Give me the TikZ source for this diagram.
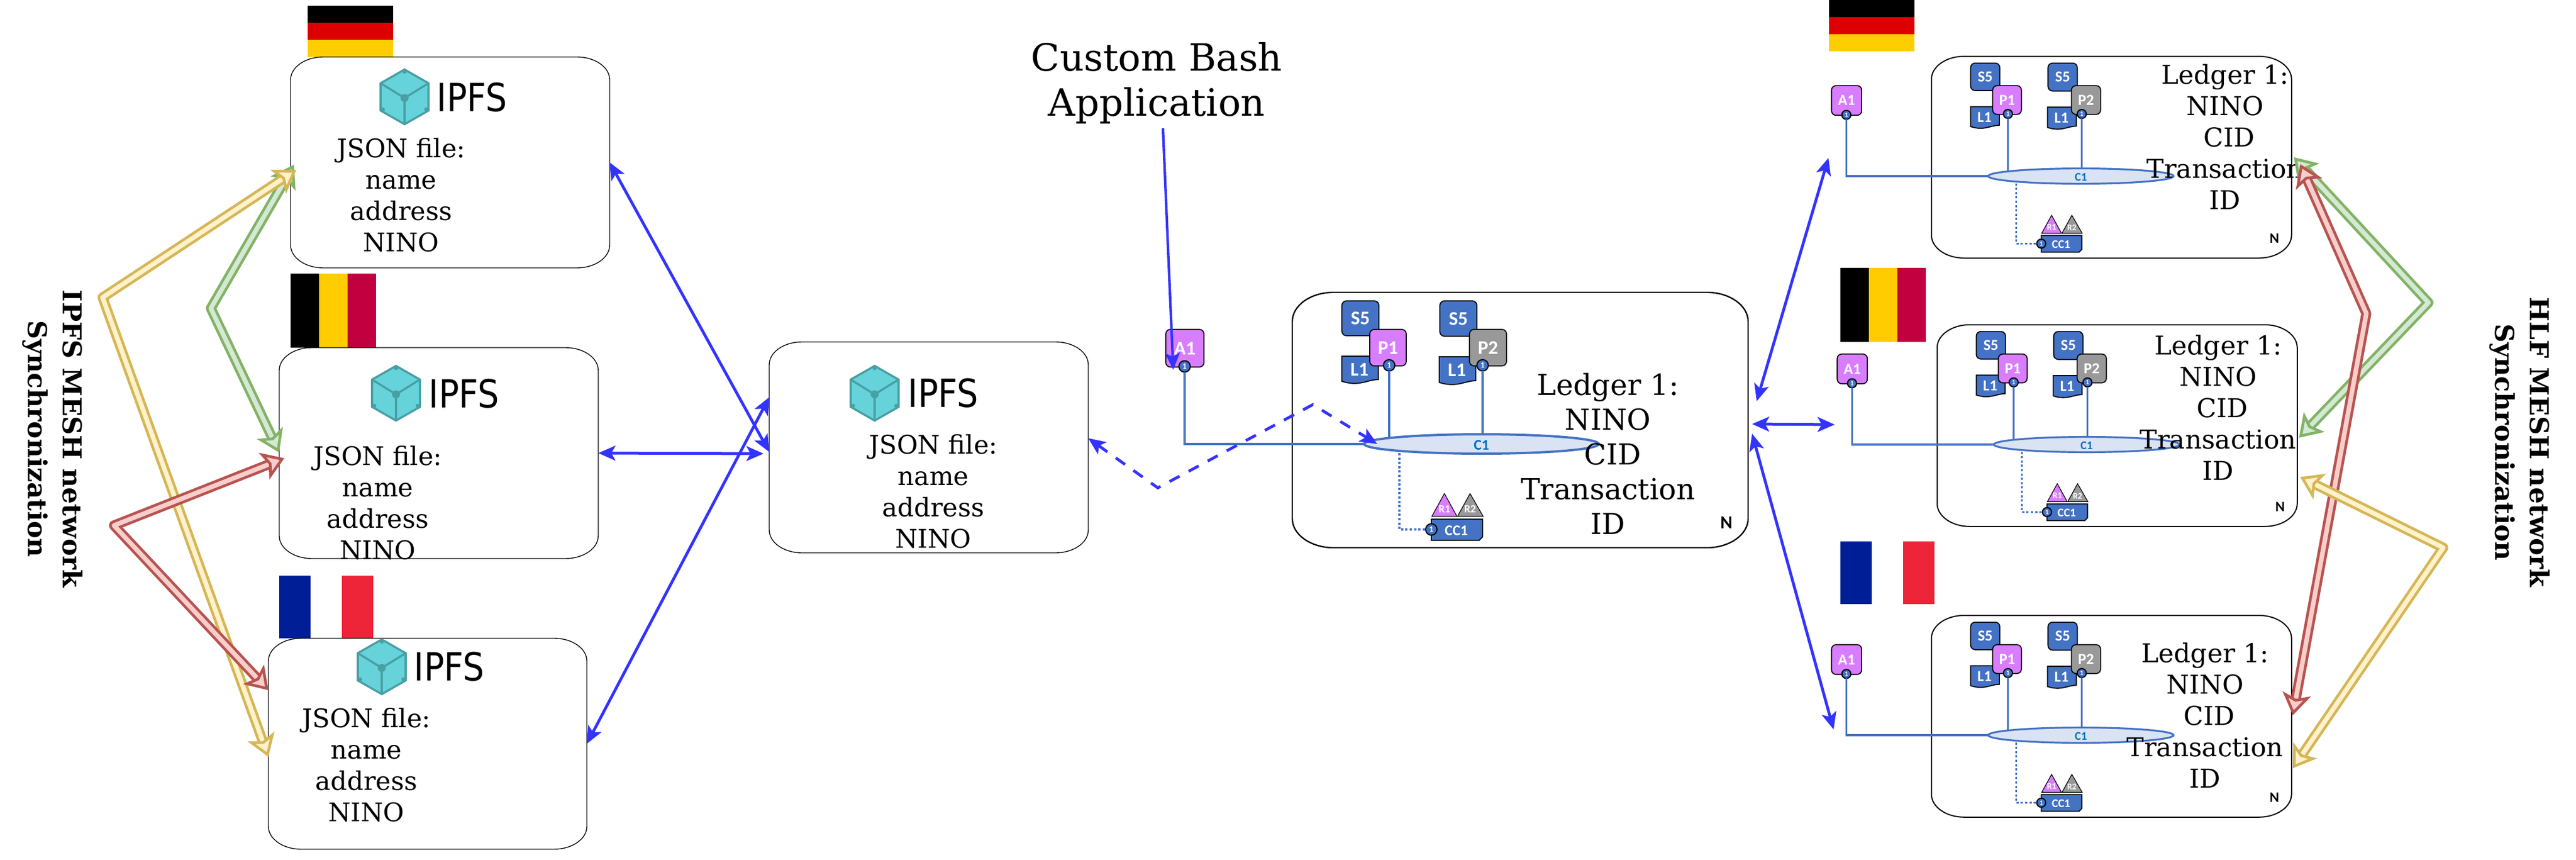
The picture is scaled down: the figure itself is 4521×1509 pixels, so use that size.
\documentclass[tikz,border=0pt]{standalone}
\usepackage{fontspec}
\setmainfont{DejaVu Serif}
\newfontfamily\dvsans{DejaVu Sans}
\newfontfamily\calfont{Carlito}
\usetikzlibrary{arrows.meta,calc}
\definecolor{bluearrow}{HTML}{3333FF}
\definecolor{hlblue}{HTML}{4472C4}
\definecolor{hlpink}{HTML}{D97DFF}
\definecolor{hlgrey}{HTML}{999999}
\definecolor{hlpale}{HTML}{DAE3F3}
\definecolor{hltext}{HTML}{0070C0}
\definecolor{cubefill}{HTML}{65D3D9}
\definecolor{cubeedge}{HTML}{489FA4}
\definecolor{fatyellowa}{HTML}{D6B656}
\definecolor{fatyellowb}{HTML}{FFF2CC}
\definecolor{fatgreena}{HTML}{82B366}
\definecolor{fatgreenb}{HTML}{D5E8D4}
\definecolor{fatreda}{HTML}{B85450}
\definecolor{fatredb}{HTML}{F8CECC}
\definecolor{deblack}{HTML}{000000}
\definecolor{dered}{HTML}{DD0000}
\definecolor{deyellow}{HTML}{FFCE00}
\definecolor{beyellow}{HTML}{FFCC00}
\definecolor{bered}{HTML}{C2003F}
\definecolor{frblue}{HTML}{001E96}
\definecolor{frred}{HTML}{EE2538}
\tikzset{
  bluelink/.style={draw=bluearrow,line width=1.25pt,{Stealth[length=7.5pt,width=6.5pt,inset=1.8pt]}-{Stealth[length=7.5pt,width=6.5pt,inset=1.8pt]}},
  bluetip/.style={draw=bluearrow,line width=1.1pt,-{Stealth[length=7.5pt,width=6.5pt,inset=1.8pt]}},
  bluedash/.style={bluelink,dash pattern=on 5pt off 4.5pt},
  fatlink/.style n args={2}{draw=#1,double=#2,double distance=2pt,line width=1.2pt,line join=round,
    {Stealth[length=9.5pt,width=12.5pt,inset=2.2pt,line width=1.2pt,fill=#2,color=#1]}-{Stealth[length=9.5pt,width=12.5pt,inset=2.2pt,line width=1.2pt,fill=#2,color=#1]}},
  jsontext/.style={align=center,inner sep=0pt,font=\fontsize{11.25}{13.75}\selectfont},
  bigledgertext/.style={align=center,inner sep=0pt,font=\fontsize{12.7}{15.25}\selectfont},
  smallledgertext/.style={align=center,inner sep=0pt,font=\fontsize{11.4}{13.75}\selectfont},
  ipfslabel/.style={anchor=west,inner sep=0pt,font=\dvsans\fontsize{17}{20}\selectfont},
  syncl/.style={align=center,inner sep=0pt,rotate=-90,font=\bfseries\fontsize{11.4}{15.25}\selectfont},
  hlsq/.style={rectangle,rounded corners=2pt,draw=black,line width=.45pt,text=white,inner sep=0pt,outer sep=0pt,
    font=\calfont\bfseries\fontsize{8.5}{9}\selectfont,transform shape},
  hlport/.style={circle,fill=hlblue,draw=black,line width=.5pt,minimum size=5pt,inner sep=0pt,outer sep=0pt,text=white,
    font=\calfont\bfseries\fontsize{3.6}{4}\selectfont,transform shape},
  hllabel/.style={inner sep=0pt,text=white,font=\calfont\bfseries\fontsize{8.5}{9}\selectfont,transform shape},
}
% soft box with elliptical corners: name, x0,y0,x1,y1,rx,ry,line width
\newcommand{\softbox}[8]{%
  \node[inner sep=0pt,outer sep=0pt,minimum width={(#4-#2)*0.25pt},minimum height={(#5-#3)*0.25pt},transform shape] (#1) at ({(#2+#4)/2},{(#3+#5)/2}) {};
  \draw[line width=#8,black]
    ({#2+#6},#3) -- ({#4-#6},#3)
    .. controls ({#4-#6*.45},#3) and (#4,{#3+#7*.45}) .. (#4,{#3+#7})
    -- (#4,{#5-#7})
    .. controls (#4,{#5-#7*.45}) and ({#4-#6*.45},#5) .. ({#4-#6},#5)
    -- ({#2+#6},#5)
    .. controls ({#2+#6*.45},#5) and (#2,{#5-#7*.45}) .. (#2,{#5-#7})
    -- (#2,{#3+#7})
    .. controls (#2,{#3+#7*.45}) and ({#2+#6*.45},#3) .. ({#2+#6},#3) -- cycle;
}
\newcommand{\ipfscube}[3]{%
  \begin{scope}[shift={(#2,#3)}]
    \draw[draw=cubeedge,fill=cubefill,line width=.9pt,line join=miter]
      (0,-48) coordinate (#1t) -- (42,-24) -- (42,24) -- (0,48) coordinate (#1b) -- (-42,24) -- (-42,-24) -- cycle;
    \coordinate (#1c) at (0,2);
    \draw[cubeedge,line width=.9pt] (-42,-24) -- (#1c) -- (42,-24) (#1c) -- (#1b);
    \fill[cubeedge] (#1c) circle[radius=7];
    \fill[cubeedge] (#1t) ++(0,4) circle[radius=3.5];
    \fill[cubeedge] (-38,22) circle[radius=3.5] (38,22) circle[radius=3.5];
  \end{scope}
}
% prefix, ellipse cx, cy, scale, connector width, box width
\newcommand{\ledgergroup}[6]{%
\begin{scope}[shift={(#2,#3)},scale=#4]
  \softbox{#1box}{-332}{-266}{468}{182}{72}{51}{#6}
  \node[hlsq,fill=hlblue,minimum width=16.25pt,minimum height=15.25pt] (#1sa) at (-212.5,-220.5) {S5};
  \fill[hlblue,draw=black,line width=.45pt] (-245,-154) -- (-181,-154) -- (-181,-113) .. controls (-200,-113) and (-215,-100) .. (-245,-110) -- cycle;
  \node[hllabel] (#1la) at (-214,-131) {L1};
  \node[hlsq,fill=hlpink,minimum width=16pt,minimum height=16pt] (#1pa) at (-164,-169) {P1};
  \node[hlsq,fill=hlblue,minimum width=16.25pt,minimum height=15.5pt] (#1sb) at (-40.5,-220) {S5};
  \fill[hlblue,draw=black,line width=.45pt] (-74,-153) -- (-10,-153) -- (-10,-111) .. controls (-29,-111) and (-44,-98) .. (-74,-108) -- cycle;
  \node[hllabel] (#1lb) at (-43,-130) {L1};
  \node[hlsq,fill=hlgrey,minimum width=16.25pt,minimum height=16pt] (#1pb) at (11.5,-169) {P2};
  \node[hlsq,fill=hlpink,minimum width=16.75pt,minimum height=16.5pt] (#1a) at (-520.5,-168) {A1};
  \node[hlport] (#1ppa) at (-162,-138) {1};
  \node[hlport] (#1ppb) at (2,-138) {1};
  \node[hlport] (#1ppc) at (-521,-136) {1};
  \draw[hlblue,line width=#5] (#1ppa) -- (-162,-8);
  \draw[hlblue,line width=#5] (#1ppb) -- (2,-12);
  \draw[hlblue,line width=#5] (#1ppc) |- (-190,0);
  \filldraw[draw=hlblue,fill=hlpale,line width=#5] (0,0) ellipse[x radius=206,y radius=17];
  \node[inner sep=0pt,text=hltext,font=\calfont\bfseries\fontsize{6.5}{7}\selectfont,transform shape] (#1cl) at (0,2) {C1};
  \fill[hlblue,draw=black,line width=.45pt] (-88,132) -- (2,132) -- (2,163) -- (-4,169) -- (-88,169) -- cycle;
  \node[hllabel,font=\calfont\bfseries\fontsize{6.5}{7}\selectfont] (#1cc) at (-44,152) {CC1};
  \node[hlport] (#1ppd) at (-88,150) {1};
  \draw[hlblue,line width=#5,dash pattern=on 1pt off .9pt] (-144,16) |- (#1ppd);
  \fill[hlpink,draw=black,line width=.3pt] (-87,127) -- (-65,87) -- (-43,127) -- cycle;
  \fill[hlgrey,draw=black,line width=.3pt] (-42,127) -- (-20,87) -- (3,127) -- cycle;
  \node[hllabel,font=\calfont\bfseries\fontsize{4.8}{5}\selectfont] (#1ra) at (-65,114) {R1};
  \node[hllabel,font=\calfont\bfseries\fontsize{4.8}{5}\selectfont] (#1rb) at (-20,114) {R2};
  \node[inner sep=0pt,text=black,font=\calfont\bfseries\fontsize{8}{9}\selectfont,transform shape] (#1n) at (430,138) {N};
\end{scope}
}
\begin{document}
\begin{tikzpicture}[x=0.25pt,y=-0.25pt]
\fill[white] (0,0) rectangle (4521,1509);
\useasboundingbox (0,0) rectangle (4521,1509);

% flags left
\fill[deblack] (540,10) rectangle (690,40);
\fill[dered] (540,40) rectangle (690,70);
\fill[deyellow] (540,70) rectangle (690,100);
\fill[black] (510,480) rectangle (560,610);
\fill[beyellow] (560,480) rectangle (610,610);
\fill[bered] (610,480) rectangle (660,610);
\fill[frblue] (490,1010) rectangle (545,1120);
\fill[frred] (600,1010) rectangle (655,1120);

% IPFS boxes
\softbox{ba}{510}{100}{1070}{470}{57}{40}{.35pt}
\softbox{bb}{490}{610}{1050}{980}{57}{40}{.35pt}
\softbox{bc}{471}{1120}{1030}{1490}{57}{40}{.35pt}
\softbox{bm}{1350}{600}{1910}{970}{57}{40}{.35pt}
\ipfscube{ca}{710}{170}
\ipfscube{cb}{695}{690}
\ipfscube{cc}{670}{1170}
\ipfscube{cm}{1535}{690}
\node[ipfslabel] (ia) at (766,171) {\scalebox{.87}[1]{IPFS}};
\node[ipfslabel] (ib) at (752,691) {\scalebox{.87}[1]{IPFS}};
\node[ipfslabel] (ic) at (726,1170) {\scalebox{.87}[1]{IPFS}};
\node[ipfslabel] (im) at (1593,690) {\scalebox{.87}[1]{IPFS}};
\node[jsontext] (ja) at (704,342) {JSON file:\\name\\address\\NINO};
\node[jsontext] (jb) at (663,882) {JSON file:\\name\\address\\NINO};
\node[jsontext] (jc) at (643,1342) {JSON file:\\name\\address\\NINO};
\node[jsontext] (jm) at (1638,862) {JSON file:\\name\\address\\NINO};

% rotated captions
\node[syncl] (capl) at (92,770) {IPFS MESH network\\Synchronization};
\node[syncl] (capr) at (4422,776) {HLF MESH network\\Synchronization};

% bash
\node[align=center,inner sep=0pt,font=\fontsize{16.5}{19.75}\selectfont] (bash) at (2030,146) {Custom Bash\\Application};

% ledger groups
\ledgergroup{g0}{2600}{779}{1}{1pt}{.6pt}
\ledgergroup{g1}{3652}{309}{.79}{.8pt}{.5pt}
\ledgergroup{g2}{3662}{780}{.79}{.8pt}{.5pt}
\ledgergroup{g3}{3652}{1290}{.79}{.8pt}{.5pt}
\node[bigledgertext] (t0) at (2822,796) {Ledger 1:\\NINO\\\hspace*{4pt}CID\\Transaction\\ID};
\node[smallledgertext] (t1) at (3905,240) {Ledger 1:\\NINO\\\hspace*{3.5pt}CID\\Transaction\\ID};
\node[smallledgertext] (t2) at (3893,715) {Ledger 1:\\NINO\\\hspace*{3.5pt}CID\\Transaction\\ID};
\node[smallledgertext] (t3) at (3870,1255) {Ledger 1:\\NINO\\\hspace*{3.5pt}CID\\Transaction\\ID};

% flags right
\fill[deblack] (3210,0) rectangle (3360,30);
\fill[dered] (3210,30) rectangle (3360,60);
\fill[deyellow] (3210,60) rectangle (3360,90);
\fill[black] (3230,470) rectangle (3280,600);
\fill[beyellow] (3280,470) rectangle (3330,600);
\fill[bered] (3330,470) rectangle (3380,600);
\fill[frblue] (3230,950) rectangle (3285,1060);
\fill[frred] (3340,950) rectangle (3395,1060);

% blue connectors
\draw[bluelink] (ba.east) -- ([yshift=-2]bm.west);
\draw[bluelink] (bb.east) -- ([shift={(-10,11)}]bm.west);
\draw[bluelink] (bc.east) -- ([yshift=22]bm.west);
\coordinate (bashstart) at (2041,225);
\coordinate (bashend) at (2059,649);
\draw[bluetip] (bashstart) -- (bashend);
\coordinate (dashlow) at (2032,856);
\coordinate (dashhigh) at (2304,710);
\coordinate (dashend) at (2417,779);
\draw[bluedash] ([yshift=4]bm.east) -- (dashlow) -- (dashhigh) -- (dashend);
\coordinate (rua) at (3083,704);
\coordinate (rma) at (3075,744);
\coordinate (rla) at (3075,761);
\coordinate (ruz) at (3209,277);
\coordinate (rmz) at (3220,745);
\coordinate (rlz) at (3218,1280);
\draw[bluelink] (rua) -- (ruz);
\draw[bluelink] (rma) -- (rmz);
\draw[bluelink] (rla) -- (rlz);

% fat synchronisation arrows, left
\coordinate (lga) at (516,289); \coordinate (lgm) at (370,541); \coordinate (lgb) at (490,794);
\coordinate (lya) at (520,298); \coordinate (lym) at (180,522); \coordinate (lyb) at (471,1328);
\coordinate (lra) at (499,804); \coordinate (lrm) at (200,922); \coordinate (lrb) at (471,1211);
\draw[fatlink={fatgreena}{fatgreenb}] (lga) -- (lgm) -- (lgb);
\draw[fatlink={fatyellowa}{fatyellowb}] (lya) -- (lym) -- (lyb);
\draw[fatlink={fatreda}{fatredb}] (lra) -- (lrm) -- (lrb);
% fat synchronisation arrows, right
\coordinate (rga) at (4026,276); \coordinate (rgm) at (4262,531); \coordinate (rgb) at (4035,768);
\coordinate (rra) at (4037,288); \coordinate (rrm) at (4153,550); \coordinate (rrb) at (4024,1255);
\coordinate (rya) at (4037,837); \coordinate (rym) at (4288,961); \coordinate (ryb) at (4024,1348);
\draw[fatlink={fatgreena}{fatgreenb}] (rga) -- (rgm) -- (rgb);
\draw[fatlink={fatreda}{fatredb}] (rra) -- (rrm) -- (rrb);
\draw[fatlink={fatyellowa}{fatyellowb}] (rya) -- (rym) -- (ryb);
\end{tikzpicture}
\end{document}
